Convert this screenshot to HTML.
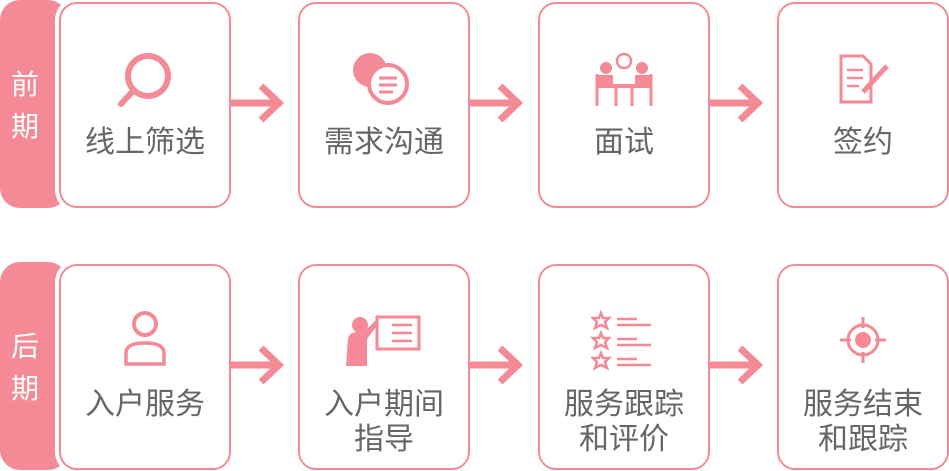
<!DOCTYPE html>
<html><head><meta charset="utf-8"><style>
body{margin:0;width:949px;height:471px;background:#fff;overflow:hidden;position:relative;font-family:"Liberation Sans","Noto Sans CJK SC",sans-serif}
.tab{position:absolute;left:0;width:68px;height:208px;background:#f48a95;border-radius:20px}
.tab span{position:absolute;left:8px;width:34px;color:#fff;font-size:28px;line-height:42px;text-align:center}
.box{position:absolute;width:168px;height:202px;border:2.5px solid #f48a95;border-radius:18px;background:#fff;box-shadow:0 0 0 4px #fff}
.lbl{position:absolute;left:0;right:0;text-align:center;color:#666;font-size:30px;line-height:35px}
svg.ic{position:absolute;left:0;top:0}
.arr{position:absolute}
</style></head><body>
<div class="tab" style="top:0"><span style="top:64px">前<br>期</span></div>
<div class="tab" style="top:262px"><span style="top:64px">后<br>期</span></div>

<div class="box" style="left:59px;top:2px"><div class="lbl" style="top:121px">线上筛选</div>
<svg class="ic" width="172" height="120"><circle cx="87" cy="72" r="20" fill="none" stroke="#f48a95" stroke-width="6"/><line x1="72" y1="87" x2="60" y2="100" stroke="#f48a95" stroke-width="6" stroke-linecap="round"/></svg></div>
<div class="box" style="left:298px;top:2px"><div class="lbl" style="top:121px">需求沟通</div>
<svg class="ic" width="172" height="120"><circle cx="70" cy="66" r="17" fill="#f48a95"/><circle cx="88" cy="80" r="19" fill="#fff" stroke="#f48a95" stroke-width="4"/><line x1="79" y1="74" x2="97" y2="74" stroke="#f48a95" stroke-width="3"/><line x1="79" y1="81" x2="97" y2="81" stroke="#f48a95" stroke-width="3"/><line x1="79" y1="88" x2="93" y2="88" stroke="#f48a95" stroke-width="3"/></svg></div>
<div class="box" style="left:538px;top:2px"><div class="lbl" style="top:121px">面试</div>
<svg class="ic" width="172" height="120"><circle cx="84" cy="57" r="7" fill="none" stroke="#f48a95" stroke-width="2.5"/><circle cx="66" cy="64" r="6" fill="#f48a95"/><circle cx="102" cy="64" r="6" fill="#f48a95"/><rect x="58" y="71" width="15" height="13" fill="#f48a95"/><rect x="95" y="71" width="15" height="13" fill="#f48a95"/><rect x="62" y="80" width="44" height="4" fill="#f48a95"/><line x1="57" y1="70" x2="57" y2="102" stroke="#f48a95" stroke-width="3"/><line x1="111" y1="70" x2="111" y2="102" stroke="#f48a95" stroke-width="3"/><line x1="76" y1="84" x2="76" y2="102" stroke="#f48a95" stroke-width="3"/><line x1="92" y1="84" x2="92" y2="102" stroke="#f48a95" stroke-width="3"/></svg></div>
<div class="box" style="left:777px;top:2px"><div class="lbl" style="top:121px">签约</div>
<svg class="ic" width="172" height="120"><path d="M62 52h22l8 8v38h-30z" fill="none" stroke="#f48a95" stroke-width="3"/><line x1="68" y1="66" x2="84" y2="66" stroke="#f48a95" stroke-width="2.5"/><line x1="68" y1="74" x2="84" y2="74" stroke="#f48a95" stroke-width="2.5"/><line x1="68" y1="82" x2="80" y2="82" stroke="#f48a95" stroke-width="2.5"/><line x1="84" y1="88" x2="108" y2="62" stroke="#f48a95" stroke-width="5"/></svg></div>

<div class="box" style="left:59px;top:264px"><div class="lbl" style="top:121px">入户服务</div>
<svg class="ic" width="172" height="120"><circle cx="84" cy="58" r="11" fill="none" stroke="#f48a95" stroke-width="4"/><path d="M65 98v-11q0-10 19-10q19 0 19 10v11z" fill="none" stroke="#f48a95" stroke-width="3.5"/></svg></div>
<div class="box" style="left:298px;top:264px"><div class="lbl" style="top:121px">入户期间<br>指导</div>
<svg class="ic" width="172" height="120"><circle cx="60" cy="59" r="8" fill="#f48a95"/><path d="M46 100l2-28q2-6 10-6h6l12-12 3 3-12 16v27z" fill="#f48a95"/><rect x="77" y="51" width="42" height="32" fill="none" stroke="#f48a95" stroke-width="3"/><line x1="92" y1="59" x2="112" y2="59" stroke="#f48a95" stroke-width="2.5"/><line x1="92" y1="67" x2="112" y2="67" stroke="#f48a95" stroke-width="2.5"/><line x1="92" y1="75" x2="112" y2="75" stroke="#f48a95" stroke-width="2.5"/></svg></div>
<div class="box" style="left:538px;top:264px"><div class="lbl" style="top:121px">服务跟踪<br>和评价</div>
<svg class="ic" width="172" height="120" fill="none" stroke="#f48a95" stroke-width="2.5"><polygon points="61,47 63,52 69,52 65,56 67,62 61,59 55,62 57,56 53,52 59,52"/><polygon points="61,67 63,72 69,72 65,76 67,82 61,79 55,82 57,76 53,72 59,72"/><polygon points="61,87 63,92 69,92 65,96 67,102 61,99 55,102 57,96 53,92 59,92"/><path d="M77 53h20M77 59h34M77 73h20M77 79h34M77 93h20M77 99h34"/></svg></div>
<div class="box" style="left:777px;top:264px"><div class="lbl" style="top:121px">服务结束<br>和跟踪</div>
<svg class="ic" width="172" height="120"><circle cx="84" cy="74" r="15" fill="none" stroke="#f48a95" stroke-width="3"/><circle cx="84" cy="74" r="8" fill="#f48a95"/><path d="M84 51v11M84 86v11M61 74h11M96 74h11" stroke="#f48a95" stroke-width="3"/></svg></div>

<svg class="arr" width="949" height="471" style="left:0;top:0" fill="none" stroke="#f48a95" stroke-width="7">
<path d="M231 103h48M261 86l18 17-18 17"/>
<path d="M470 103h48M500 86l18 17-18 17"/>
<path d="M710 103h48M740 86l18 17-18 17"/>
<path d="M231 365h48M261 348l18 17-18 17"/>
<path d="M470 365h48M500 348l18 17-18 17"/>
<path d="M710 365h48M740 348l18 17-18 17"/>
</svg>
</body></html>
